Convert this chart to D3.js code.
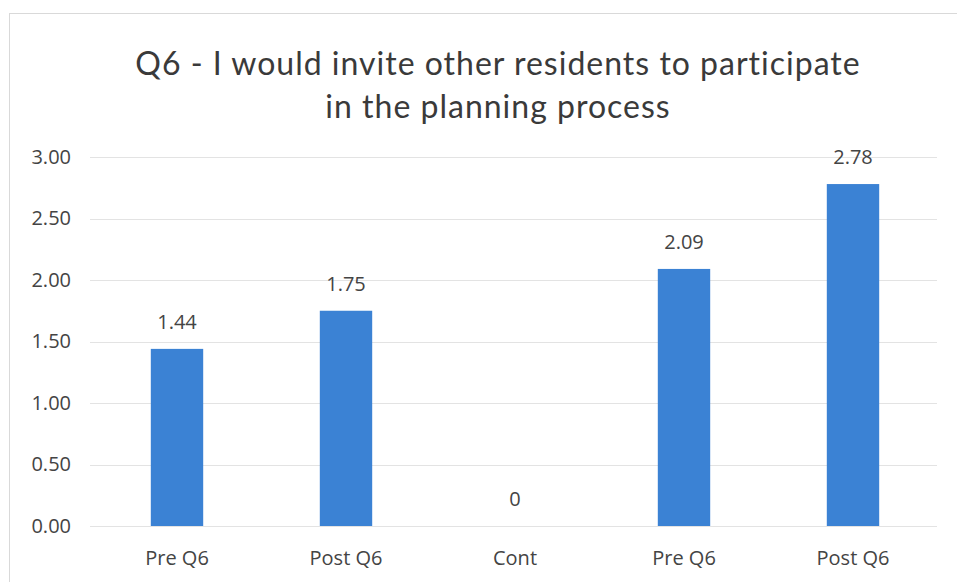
<!DOCTYPE html>
<html>
<head>
<meta charset="utf-8">
<title>Q6 - I would invite other residents to participate</title>
<script src="https://d3js.org/d3.v7.min.js"></script>
<style>
  body { margin: 0; background: #fff; }
  svg { display: block; }
</style>
</head>
<body>
<div id="chart"></div>
<script>
// data
var categories = ['Pre Q6', 'Post Q6', 'Cont', 'Pre Q6', 'Post Q6'];
var values = [1.44, 1.75, 0, 2.09, 2.78];
var valueLabels = ['1.44', '1.75', '0', '2.09', '2.78'];
var yTicks = [0, 0.5, 1, 1.5, 2, 2.5, 3];
var titleLines = ['Q6 - I would invite other residents to participate', 'in the planning process'];

var width = 957, height = 582;
var margin = { top: 157, right: 20, bottom: 56, left: 92.5 };
var barColor = '#3b82d4';
var textColor = '#444';
var axisFont = '"Open Sans", "DejaVu Sans", sans-serif';

var svg = d3.select('#chart').append('svg')
    .attr('width', width)
    .attr('height', height);

// chart frame
svg.append('rect')
    .attr('x', 9.5).attr('y', 13.5)
    .attr('width', width + 10).attr('height', height + 10)
    .style('fill', '#fff')
    .style('stroke', '#d9d9d9');

var x = d3.scaleBand()
    .domain(d3.range(categories.length))
    .range([margin.left, 937.5])
    .paddingInner(0.69)
    .paddingOuter(0.345);

var y = d3.scaleLinear()
    .domain([0, 3])
    .range([526, margin.top]);

// gridlines
svg.append('g').selectAll('line')
    .data(yTicks)
    .enter().append('line')
    .attr('x1', 90).attr('x2', 937)
    .attr('y1', function (d) { return Math.round(y(d)) + 0.5; })
    .attr('y2', function (d) { return Math.round(y(d)) + 0.5; })
    .style('stroke', '#e3e3e3')
    .style('stroke-width', 1);

// y axis labels
var yAxis = d3.axisLeft(y)
    .tickValues(yTicks)
    .tickFormat(d3.format('.2f'))
    .tickSize(0)
    .tickPadding(0);
var gy = svg.append('g')
    .attr('transform', 'translate(71,0)')
    .call(yAxis);
gy.select('.domain').remove();
gy.selectAll('text')
    .style('font-family', axisFont)
    .style('font-size', '20px')
    .style('fill', textColor);

// bars
svg.append('g').selectAll('rect')
    .data(values)
    .enter().append('rect')
    .attr('x', function (d, i) { return x(i); })
    .attr('y', function (d) { return y(d); })
    .attr('width', x.bandwidth())
    .attr('height', function (d) { return y(0) - y(d); })
    .style('fill', barColor);

// value labels
svg.append('g').selectAll('text')
    .data(values)
    .enter().append('text')
    .attr('x', function (d, i) { return x(i) + x.bandwidth() / 2; })
    .attr('y', function (d) { return y(d) - 20; })
    .attr('text-anchor', 'middle')
    .style('font-family', axisFont)
    .style('font-size', '20px')
    .style('fill', textColor)
    .text(function (d, i) { return valueLabels[i]; });

// x axis labels
var xAxis = d3.axisBottom(x)
    .tickFormat(function (i) { return categories[i]; })
    .tickSize(0)
    .tickPadding(0);
var gx = svg.append('g')
    .attr('transform', 'translate(0,551)')
    .call(xAxis);
gx.select('.domain').remove();
gx.selectAll('text')
    .style('font-family', axisFont)
    .style('font-size', '20px')
    .style('fill', textColor);

// title
svg.append('g').selectAll('text')
    .data(titleLines)
    .enter().append('text')
    .attr('x', 498)
    .attr('y', function (d, i) { return 75 + i * 43; })
    .attr('text-anchor', 'middle')
    .style('font-family', 'Lato, "Open Sans", sans-serif')
    .style('font-size', '32px')
    .style('letter-spacing', '1px')
    .style('fill', '#3a3a3a')
    .text(function (d) { return d; });
</script>
</body>
</html>
